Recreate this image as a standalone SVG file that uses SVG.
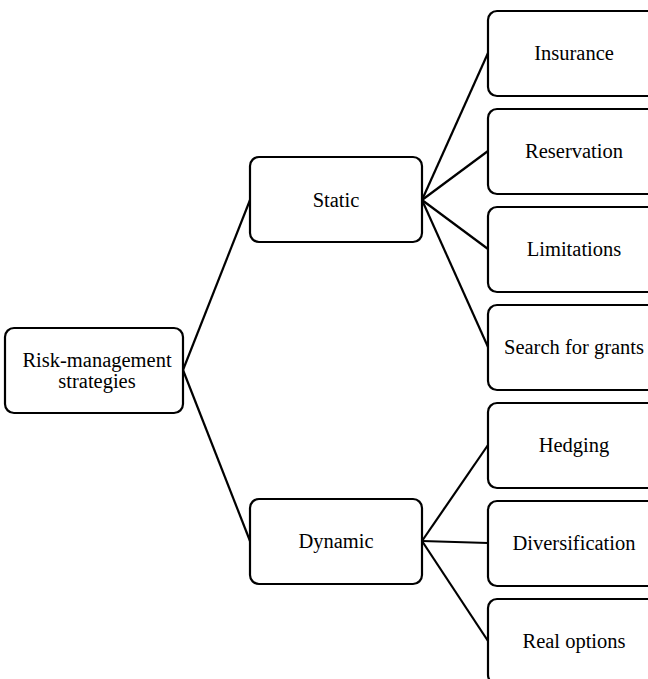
<svg xmlns="http://www.w3.org/2000/svg" width="648" height="679" viewBox="0 0 648 679">
<style>
.box{fill:#fff;stroke:#000;stroke-width:2.2}
.t{font-family:"Liberation Serif","Times New Roman",serif;font-size:20.5px;fill:#000;text-anchor:middle}
.c{stroke:#000;stroke-width:2.2;fill:none}
</style>
<rect width="648" height="679" fill="#fff"/>
<g id="connectors">
<line class="c" x1="183" y1="370" x2="250" y2="200"/>
<line class="c" x1="183" y1="370" x2="250" y2="541"/>
<line class="c" x1="422" y1="200" x2="488" y2="53"/>
<line class="c" x1="422" y1="200" x2="488" y2="151"/>
<line class="c" x1="422" y1="200" x2="488" y2="249"/>
<line class="c" x1="422" y1="200" x2="488" y2="347"/>
<line class="c" x1="422" y1="541" x2="488" y2="445"/>
<line class="c" x1="422" y1="541" x2="488" y2="543"/>
<line class="c" x1="422" y1="541" x2="488" y2="641"/>
</g>
<g id="root">
<rect class="box" x="5" y="328" width="178" height="85" rx="9"/>
<text class="t" x="97" y="367">Risk-management</text>
<text class="t" x="97" y="388">strategies</text>
</g>
<g id="static">
<rect class="box" x="250" y="157" width="172" height="85" rx="9"/>
<text class="t" x="336" y="207">Static</text>
</g>
<g id="dynamic">
<rect class="box" x="250" y="499" width="172" height="85" rx="9"/>
<text class="t" x="336" y="548">Dynamic</text>
</g>
<g id="insurance">
<rect class="box" x="488" y="11" width="172" height="85" rx="9"/>
<text class="t" x="574" y="60">Insurance</text>
</g>
<g id="reservation">
<rect class="box" x="488" y="109" width="172" height="85" rx="9"/>
<text class="t" x="574" y="158">Reservation</text>
</g>
<g id="limitations">
<rect class="box" x="488" y="207" width="172" height="85" rx="9"/>
<text class="t" x="574" y="256">Limitations</text>
</g>
<g id="search">
<rect class="box" x="488" y="305" width="172" height="85" rx="9"/>
<text class="t" x="574" y="354">Search for grants</text>
</g>
<g id="hedging">
<rect class="box" x="488" y="403" width="172" height="85" rx="9"/>
<text class="t" x="574" y="452">Hedging</text>
</g>
<g id="diversification">
<rect class="box" x="488" y="501" width="172" height="85" rx="9"/>
<text class="t" x="574" y="550">Diversification</text>
</g>
<g id="realoptions">
<rect class="box" x="488" y="599" width="172" height="85" rx="9"/>
<text class="t" x="574" y="648">Real options</text>
</g>
</svg>
